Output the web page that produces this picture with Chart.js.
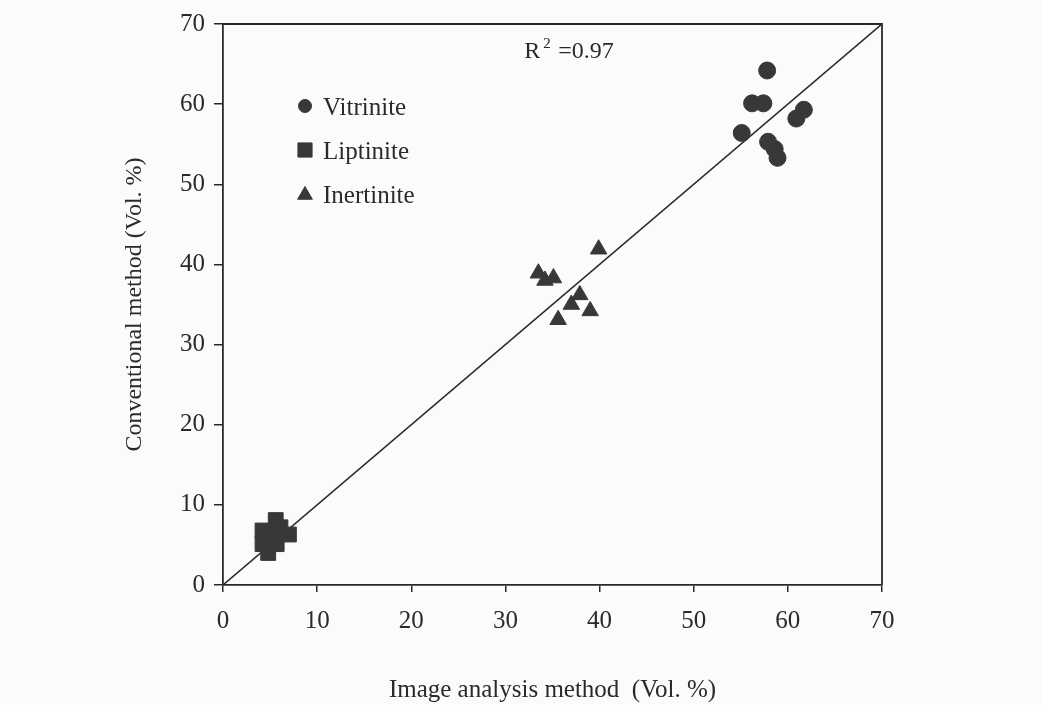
<!DOCTYPE html>
<html>
<head>
<meta charset="utf-8">
<script src="https://cdn.jsdelivr.net/npm/chart.js@4/dist/chart.umd.min.js"></script>
<style>
  html, body { margin: 0; padding: 0; background: #fbfbfb; }
  #wrap { width: 1043px; height: 705px; position: relative; }
</style>
</head>
<body>
<div id="wrap"><canvas id="c" width="1043" height="705"></canvas></div>
<script>
// ---- data ----
const seriesNames = ['Vitrinite', 'Liptinite', 'Inertinite'];

const vitriniteX = [57.8, 56.2, 57.4, 61.7, 60.9, 55.1, 57.9, 58.6, 58.9];
const vitriniteY = [64.2, 60.1, 60.1, 59.3, 58.2, 56.4, 55.3, 54.4, 53.3];

const liptiniteX = [5.6, 4.2, 5.5, 7.0, 4.2, 5.7, 4.8, 6.1];
const liptiniteY = [8.1, 6.8, 6.4, 6.3, 5.1, 5.1, 4.0, 7.2];

const inertiniteX = [39.9, 33.5, 35.1, 34.2, 37.9, 37.0, 39.0, 35.6];
const inertiniteY = [41.9, 38.9, 38.3, 38.0, 36.2, 35.0, 34.2, 33.1];

const fitX = [0, 70];
const fitY = [0, 70];
const r2Text = '0.97';

const tickValues = [0, 10, 20, 30, 40, 50, 60, 70];
const xTitle = 'Image analysis method  (Vol. %)';
const yTitle = 'Conventional method (Vol. %)';

// ---- build ----
const toPts = (xs, ys) => xs.map((x, i) => ({ x: x, y: ys[i] }));
const FONT = 'Liberation Serif';
const INK = '#2a2a2a';
const MARK = '#383838';

const legendPlugin = {
  id: 'insideLegend',
  afterDatasetsDraw(chart) {
    const { ctx, chartArea } = chart;
    const x0 = chartArea.left + 82;
    const y0 = chartArea.top + 82;
    const gap = 44;
    const styles = [
      { pointStyle: 'circle', radius: 6.5 },
      { pointStyle: 'rect', radius: 10 },
      { pointStyle: 'triangle', radius: 8.5 }
    ];
    ctx.save();
    ctx.font = '25px "' + FONT + '"';
    ctx.textBaseline = 'middle';
    ctx.textAlign = 'left';
    seriesNames.forEach((name, i) => {
      const y = y0 + i * gap;
      ctx.fillStyle = MARK;
      ctx.strokeStyle = MARK;
      ctx.lineWidth = 1;
      Chart.helpers.drawPoint(ctx, { pointStyle: styles[i].pointStyle, radius: styles[i].radius, rotation: 0, borderWidth: 1 }, x0, y + (i === 2 ? 1 : 0));
      ctx.fillStyle = INK;
      ctx.fillText(name, x0 + 18, y + 2);
    });
    ctx.restore();
  }
};

const framePlugin = {
  id: 'frame',
  afterDraw(chart) {
    const { ctx, chartArea } = chart;
    ctx.save();
    ctx.strokeStyle = INK;
    ctx.lineWidth = 1.8;
    ctx.beginPath();
    ctx.moveTo(chartArea.left, chartArea.top);
    ctx.lineTo(chartArea.right, chartArea.top);
    ctx.lineTo(chartArea.right, chartArea.bottom);
    ctx.stroke();
    // R^2 annotation
    const xs = chart.scales.x, ys = chart.scales.y;
    const px = xs.getPixelForValue(32.0);
    const py = ys.getPixelForValue(65.7);
    ctx.fillStyle = INK;
    ctx.textBaseline = 'alphabetic';
    ctx.textAlign = 'left';
    ctx.font = '24px "' + FONT + '"';
    ctx.fillText('R', px, py);
    const rw = ctx.measureText('R').width;
    ctx.font = '15px "' + FONT + '"';
    ctx.fillText('2', px + rw + 3, py - 10);
    ctx.font = '24px "' + FONT + '"';
    ctx.fillText('=' + r2Text, px + rw + 18, py);
    ctx.restore();
  }
};

new Chart(document.getElementById('c'), {
  type: 'scatter',
  data: {
    datasets: [
      { label: seriesNames[0], data: toPts(vitriniteX, vitriniteY), pointStyle: 'circle', pointRadius: 8.5, pointBackgroundColor: MARK, pointBorderColor: MARK, pointBorderWidth: 1 },
      { label: seriesNames[1], data: toPts(liptiniteX, liptiniteY), pointStyle: 'rect', pointRadius: 10.5, pointBackgroundColor: MARK, pointBorderColor: MARK, pointBorderWidth: 1 },
      { label: seriesNames[2], data: toPts(inertiniteX, inertiniteY), pointStyle: 'triangle', pointRadius: 9.5, pointBackgroundColor: MARK, pointBorderColor: MARK, pointBorderWidth: 1 },
      { label: 'fit', type: 'line', data: toPts(fitX, fitY), showLine: true, borderColor: INK, borderWidth: 1.6, pointRadius: 0, fill: false, order: 5 }
    ]
  },
  options: {
    responsive: false,
    animation: false,
    devicePixelRatio: 1,
    layout: { padding: { left: 100, right: 161, top: 18, bottom: 0 } },
    plugins: { legend: { display: false }, tooltip: { enabled: false } },
    scales: {
      x: {
        type: 'linear', min: 0, max: 70,
        afterFit(s) { s.height = 120; },
        afterBuildTicks(s) { s.ticks = tickValues.map(v => ({ value: v })); },
        ticks: { font: { family: FONT, size: 25 }, color: INK, padding: 14, maxRotation: 0 },
        grid: { drawOnChartArea: false, drawTicks: true, tickLength: 7, color: INK, lineWidth: 1.5 },
        border: { display: true, color: INK, width: 1.8 },
        title: { display: true, text: xTitle, font: { family: FONT, size: 25 }, color: INK, padding: { top: 0, bottom: 0 } }
      },
      y: {
        type: 'linear', min: 0, max: 70,
        afterFit(s) { s.width = 123; },
        afterBuildTicks(s) { s.ticks = tickValues.map(v => ({ value: v })); },
        ticks: { font: { family: FONT, size: 25 }, color: INK, padding: 9 },
        grid: { drawOnChartArea: false, drawTicks: true, tickLength: 9, color: INK, lineWidth: 1.5 },
        border: { display: true, color: INK, width: 1.8 },
        title: { display: true, text: yTitle, font: { family: FONT, size: 24 }, color: INK, padding: { top: 20, bottom: 0 } }
      }
    }
  },
  plugins: [legendPlugin, framePlugin]
});
</script>
</body>
</html>
